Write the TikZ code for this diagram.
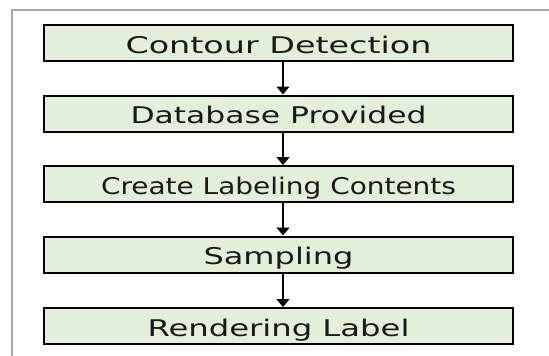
\documentclass[tikz,border=0pt]{standalone}
\usepackage{fontspec}
\usepackage{graphicx}
\setmainfont{DejaVu Sans}
\usetikzlibrary{arrows.meta}
\definecolor{boxfill}{RGB}{226,239,218}
\definecolor{txtcol}{RGB}{25,25,25}
\newcommand\fitw[2]{\setbox0\hbox{#2}\pgfmathsetmacro\sxfac{#1/\the\wd0}\scalebox{\sxfac}[1]{\box0}}
\tikzset{
  stepbox/.style={draw=black, line width=2pt, fill=boxfill, minimum width=469pt, minimum height=36pt, inner sep=0pt, text=txtcol, text height=24.7pt, text depth=4pt, font=\fontsize{23}{23}\selectfont},
  flowarrow/.style={line width=1.2pt, -{Triangle[width=13pt,length=8pt]}},
  framestyle/.style={draw=gray!70, line width=1.2pt}
}
\begin{document}
\begin{tikzpicture}[x=1pt,y=-1pt]
\useasboundingbox (0,0) rectangle (549,356);
\draw[framestyle] (549,10) -- (12,10) -- (12,356);
\node[stepbox] (b1) at (278.5,43) {\fitw{306}{Contour Detection}};
\node[stepbox] (b2) at (278.5,113.5) {\fitw{296}{Database Provided}};
\node[stepbox] (b3) at (278.5,184) {\fitw{355}{Create Labeling Contents}};
\node[stepbox] (b4) at (278.5,254.5) {\fitw{150}{Sampling}};
\node[stepbox] (b5) at (278.5,326) {\fitw{262}{Rendering Label}};
\coordinate (ax) at (283,0);
\draw[flowarrow] (b1.south -| ax) -- (b2.north -| ax);
\draw[flowarrow] (b2.south -| ax) -- (b3.north -| ax);
\draw[flowarrow] (b3.south -| ax) -- (b4.north -| ax);
\draw[flowarrow] (b4.south -| ax) -- (b5.north -| ax);
\end{tikzpicture}
\end{document}
